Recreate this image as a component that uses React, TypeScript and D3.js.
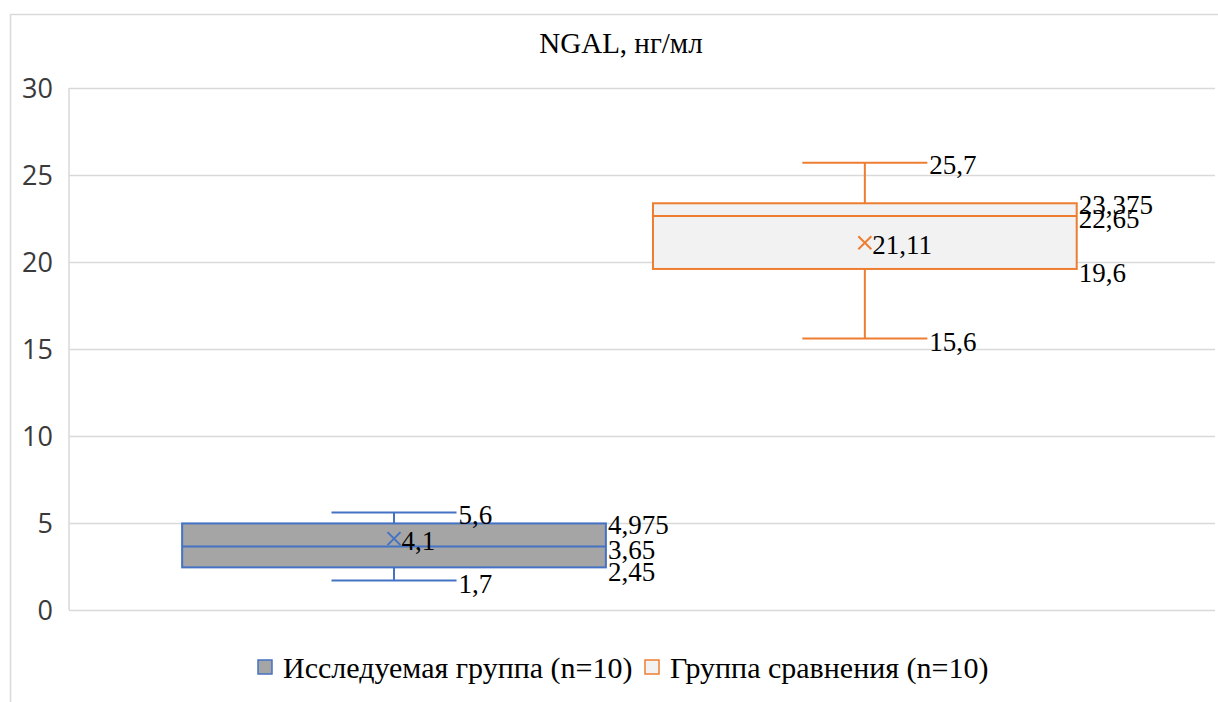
import React, { useEffect, useRef } from 'react';
import * as d3 from 'd3';

// series (Excel box & whisker, one category, two series)
const seriesNames = ['Исследуемая группа (n=10)', 'Группа сравнения (n=10)'];
const whiskerMin = [1.7, 15.6];
const quartile1 = [2.45, 19.6];
const medians = [3.65, 22.65];
const quartile3 = [4.975, 23.375];
const whiskerMax = [5.6, 25.7];
const means = [4.1, 21.11];
const yTicks = [0, 5, 10, 15, 20, 25, 30];

const strokeColors = ['#4472C4', '#ED7D31'];
const fillColors = ['#A5A5A5', '#F2F2F2'];

const fmt = (v: number) => String(v).replace('.', ',');

const App = () => {
  const ref = useRef<SVGSVGElement | null>(null);

  const width = 1218, height = 702;
  const marginLeft = 69, marginRight = 3, marginTop = 88, marginBottom = 92;

  useEffect(() => {
    const svg = d3.select(ref.current);
    svg.selectAll('*').remove();

    const GRID = '#D9D9D9';
    const serif = '"Liberation Serif", "Times New Roman", "DejaVu Serif", serif';
    const sans = '"Open Sans", "Liberation Sans", sans-serif';

    // outer chart border
    svg.append('rect')
      .attr('x', 10.5).attr('y', 14.5)
      .attr('width', width + 20).attr('height', height + 20)
      .attr('fill', '#fff').attr('stroke', GRID).attr('stroke-width', 1.5);

    const y = d3.scaleLinear().domain([0, 30]).range([height - marginBottom, marginTop]);
    const x = d3.scaleBand<number>()
      .domain(seriesNames.map((_, i) => i))
      .range([marginLeft, width - marginRight])
      .paddingInner(0.1)
      .paddingOuter(0.267)
      .align(0.45);

    // grid
    svg.append('g')
      .attr('transform', `translate(${marginLeft},0)`)
      .call(d3.axisLeft(y).tickValues(yTicks).tickSize(-(width - marginLeft - marginRight)).tickFormat(() => ''))
      .call(g => {
        g.select('.domain').remove();
        g.selectAll('.tick line').attr('stroke', GRID).attr('stroke-width', 1.5);
      });
    svg.append('line')
      .attr('x1', marginLeft).attr('x2', marginLeft)
      .attr('y1', y(30)).attr('y2', y(0))
      .attr('stroke', GRID).attr('stroke-width', 1.5);

    // y tick labels
    svg.append('g')
      .selectAll('text')
      .data(yTicks)
      .join('text')
      .attr('x', 53)
      .attr('y', d => y(d))
      .attr('dy', '0.36em')
      .attr('text-anchor', 'end')
      .attr('font-family', sans)
      .attr('font-size', 27)
      .attr('fill', '#3a3a3a')
      .text(d => d);

    // title
    svg.append('text')
      .attr('x', 621).attr('y', 53)
      .attr('text-anchor', 'middle')
      .attr('font-family', serif)
      .attr('font-size', 29)
      .attr('fill', '#000')
      .text('NGAL, нг/мл');

    const idx = seriesNames.map((_, i) => i);
    const capW = x.bandwidth() * 0.295;

    const boxes = svg.append('g').selectAll('g').data(idx).join('g');

    boxes.each(function (i) {
      const g = d3.select(this);
      const x0 = x(i)!;
      const bw = x.bandwidth();
      const cx = x0 + bw / 2;
      const col = strokeColors[i];

      // whiskers
      g.append('line').attr('x1', cx).attr('x2', cx).attr('y1', y(quartile3[i])).attr('y2', y(whiskerMax[i]))
        .attr('stroke', col).attr('stroke-width', 2);
      g.append('line').attr('x1', cx).attr('x2', cx).attr('y1', y(quartile1[i])).attr('y2', y(whiskerMin[i]))
        .attr('stroke', col).attr('stroke-width', 2);
      [whiskerMax[i], whiskerMin[i]].forEach(v => {
        g.append('line').attr('x1', cx - capW / 2).attr('x2', cx + capW / 2).attr('y1', y(v)).attr('y2', y(v))
          .attr('stroke', col).attr('stroke-width', 2);
      });

      // box
      g.append('rect')
        .attr('x', x0).attr('y', y(quartile3[i]))
        .attr('width', bw).attr('height', y(quartile1[i]) - y(quartile3[i]))
        .attr('fill', fillColors[i]).attr('stroke', col).attr('stroke-width', 2);
      g.append('line').attr('x1', x0).attr('x2', x0 + bw).attr('y1', y(medians[i])).attr('y2', y(medians[i]))
        .attr('stroke', col).attr('stroke-width', 2);

      // mean marker
      const my = y(means[i]), s = 6.5;
      g.append('path')
        .attr('d', `M${cx - s},${my - s}L${cx + s},${my + s}M${cx - s},${my + s}L${cx + s},${my - s}`)
        .attr('stroke', col).attr('stroke-width', 2).attr('fill', 'none');

      const label = (lx: number, ly: number, v: number) => g.append('text')
        .attr('x', lx).attr('y', ly).attr('dy', '0.35em')
        .attr('font-family', serif).attr('font-size', 27).attr('fill', '#000')
        .text(fmt(v));

      label(cx + s + 1, my + 2, means[i]);
      label(cx + capW / 2 + 2, y(whiskerMax[i]) + 2, whiskerMax[i]);
      label(cx + capW / 2 + 2, y(whiskerMin[i]) + 3, whiskerMin[i]);
      label(x0 + bw + 2, y(quartile3[i]) + 1, quartile3[i]);
      label(x0 + bw + 2, y(medians[i]) + 3, medians[i]);
      label(x0 + bw + 2, y(quartile1[i]) + 4, quartile1[i]);
    });

    // legend
    const legendX = [258, 645];
    const leg = svg.append('g').selectAll('g').data(idx).join('g')
      .attr('transform', i => `translate(${legendX[i]},667)`);
    leg.append('rect')
      .attr('x', 0).attr('y', -7).attr('width', 14).attr('height', 14)
      .attr('fill', i => fillColors[i]).attr('stroke', i => strokeColors[i]).attr('stroke-width', 1.5);
    leg.append('text')
      .attr('x', 25).attr('y', 0).attr('dy', '0.35em')
      .attr('font-family', serif).attr('font-size', 30).attr('fill', '#000')
      .text(i => seriesNames[i]);
  }, []);

  return (
    <div style={{ position: 'absolute', left: 0, top: 0 }}>
      <svg ref={ref} width={width} height={height} style={{ display: 'block', background: '#fff' }} />
    </div>
  );
};

export default App;
